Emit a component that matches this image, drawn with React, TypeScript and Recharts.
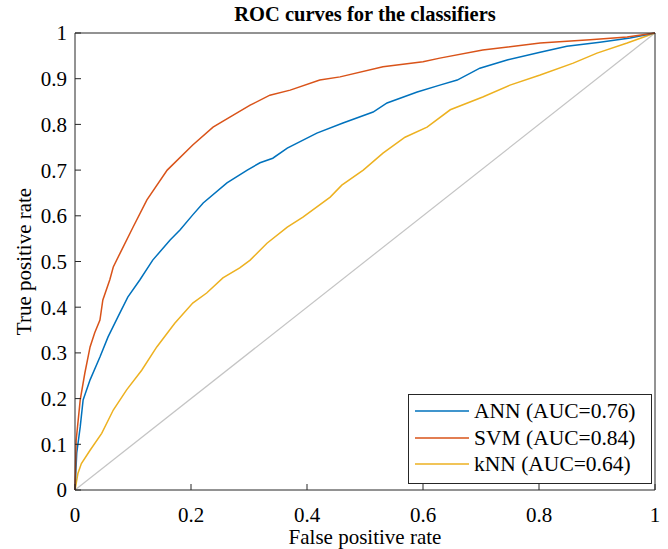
import React from "react";
import { LineChart, Line, XAxis, YAxis, Label } from "recharts";

// data (false positive rate, true positive rate)
const annFpr = [0, 0.003, 0.009, 0.014, 0.026, 0.043, 0.057, 0.074, 0.091, 0.112, 0.134, 0.164, 0.181, 0.203, 0.221, 0.262, 0.297, 0.319, 0.341, 0.366, 0.417, 0.462, 0.514, 0.538, 0.59, 0.629, 0.659, 0.698, 0.745, 0.802, 0.848, 0.905, 0.957, 1];
const annTpr = [0, 0.081, 0.138, 0.197, 0.241, 0.291, 0.335, 0.379, 0.422, 0.46, 0.503, 0.547, 0.569, 0.602, 0.628, 0.672, 0.7, 0.716, 0.726, 0.748, 0.781, 0.803, 0.827, 0.847, 0.871, 0.886, 0.897, 0.923, 0.941, 0.958, 0.971, 0.98, 0.989, 1];

const svmFpr = [0, 0.002, 0.009, 0.017, 0.026, 0.034, 0.043, 0.048, 0.06, 0.066, 0.078, 0.1, 0.124, 0.159, 0.203, 0.238, 0.267, 0.302, 0.336, 0.371, 0.422, 0.457, 0.531, 0.6, 0.629, 0.703, 0.802, 0.888, 0.952, 1];
const svmTpr = [0, 0.109, 0.197, 0.256, 0.313, 0.344, 0.372, 0.416, 0.46, 0.488, 0.519, 0.575, 0.635, 0.7, 0.755, 0.794, 0.816, 0.842, 0.864, 0.875, 0.897, 0.904, 0.926, 0.937, 0.945, 0.963, 0.978, 0.985, 0.991, 1];

const knnFpr = [0, 0.005, 0.011, 0.026, 0.046, 0.066, 0.089, 0.115, 0.141, 0.172, 0.203, 0.227, 0.255, 0.284, 0.302, 0.331, 0.366, 0.393, 0.44, 0.46, 0.497, 0.531, 0.569, 0.607, 0.647, 0.703, 0.75, 0.802, 0.859, 0.9, 0.952, 1];
const knnTpr = [0, 0.036, 0.058, 0.087, 0.124, 0.175, 0.219, 0.262, 0.313, 0.365, 0.409, 0.431, 0.464, 0.486, 0.503, 0.54, 0.575, 0.597, 0.641, 0.667, 0.7, 0.737, 0.772, 0.794, 0.832, 0.86, 0.886, 0.908, 0.934, 0.956, 0.978, 1];

const chanceFpr = [0, 1];
const chanceTpr = [0, 1];

const xTicks = [0, 0.2, 0.4, 0.6, 0.8, 1];
const yTicks = [0, 0.1, 0.2, 0.3, 0.4, 0.5, 0.6, 0.7, 0.8, 0.9, 1];

const seriesNames = ["ANN (AUC=0.76)", "SVM (AUC=0.84)", "kNN (AUC=0.64)"];
const seriesColors = ["#0072BD", "#D95319", "#EDB120"];

const toPoints = (xs: number[], ys: number[]) => xs.map((x, i) => ({ x, y: ys[i] }));

const annData = toPoints(annFpr, annTpr);
const svmData = toPoints(svmFpr, svmTpr);
const knnData = toPoints(knnFpr, knnTpr);
const chanceData = toPoints(chanceFpr, chanceTpr);

const FONT = '"Liberation Serif", "Times New Roman", serif';
const AXIS = "#262626";

const LegendBox = () => (
  <div
    style={{
      position: "absolute",
      left: 408,
      top: 394,
      border: `1px solid ${AXIS}`,
      background: "#fff",
      padding: "3px 16px 5px 6px",
      fontFamily: FONT,
      fontSize: 21.5,
      color: "#000",
      lineHeight: "26.5px",
    }}
  >
    {seriesNames.map((name, i) => (
      <div key={name} style={{ display: "flex", alignItems: "center" }}>
        <svg width={54} height={10} style={{ marginRight: 5 }}>
          <line x1={0} y1={5} x2={54} y2={5} stroke={seriesColors[i]} strokeWidth={1.5} />
        </svg>
        <span>{name}</span>
      </div>
    ))}
  </div>
);

export default function App() {
  return (
    <div style={{ position: "absolute", left: 0, top: 0, width: 668, height: 549, background: "#fff" }}>
      <LineChart
        width={668}
        height={549}
        margin={{ top: 32, right: 12, bottom: 29, left: 30 }}
        style={{ fontFamily: FONT }}
      >
        <XAxis
          xAxisId="bottom"
          type="number"
          dataKey="x"
          domain={[0, 1]}
          ticks={xTicks}
          height={30}
          stroke={AXIS}
          tickSize={-6}
          tickMargin={23}
          tick={{ fill: "#000", fontSize: 21, fontFamily: FONT }}
        >
          <Label
            value="False positive rate"
            position="bottom"
            offset={9}
            style={{ fill: "#000", fontSize: 21, fontFamily: FONT }}
          />
        </XAxis>
        <XAxis
          xAxisId="top"
          orientation="top"
          type="number"
          dataKey="x"
          domain={[0, 1]}
          ticks={xTicks}
          height={1}
          stroke={AXIS}
          tickSize={-6}
          tick={false}
        >
          <Label
            value="ROC curves for the classifiers"
            position="top"
            offset={11}
            style={{ fill: "#000", fontSize: 20.5, fontWeight: "bold", fontFamily: FONT }}
          />
        </XAxis>
        <YAxis
          yAxisId="left"
          type="number"
          dataKey="y"
          domain={[0, 1]}
          ticks={yTicks}
          width={45}
          stroke={AXIS}
          tickSize={-6}
          tickMargin={14}
          tick={{ fill: "#000", fontSize: 21, fontFamily: FONT }}
        >
          <Label
            content={({ viewBox }: any) => (
              <text
                transform={`translate(${viewBox.x + 1}, ${viewBox.y + viewBox.height / 2}) rotate(-90)`}
                textAnchor="middle"
                fill="#000"
                fontSize={21}
                fontFamily={FONT}
              >
                True positive rate
              </text>
            )}
          />
        </YAxis>
        <YAxis
          yAxisId="right"
          orientation="right"
          type="number"
          dataKey="y"
          domain={[0, 1]}
          ticks={yTicks}
          width={1}
          stroke={AXIS}
          tickSize={-6}
          tick={false}
        />
        <Line
          xAxisId="top"
          yAxisId="right"
          data={chanceData}
          dataKey="y"
          stroke="#c4c4c4"
          strokeWidth={1.2}
          dot={false}
          isAnimationActive={false}
        />
        <Line
          xAxisId="bottom"
          yAxisId="left"
          data={knnData}
          dataKey="y"
          name={seriesNames[2]}
          stroke={seriesColors[2]}
          strokeWidth={1.5}
          dot={false}
          isAnimationActive={false}
        />
        <Line
          xAxisId="bottom"
          yAxisId="left"
          data={annData}
          dataKey="y"
          name={seriesNames[0]}
          stroke={seriesColors[0]}
          strokeWidth={1.5}
          dot={false}
          isAnimationActive={false}
        />
        <Line
          xAxisId="bottom"
          yAxisId="left"
          data={svmData}
          dataKey="y"
          name={seriesNames[1]}
          stroke={seriesColors[1]}
          strokeWidth={1.5}
          dot={false}
          isAnimationActive={false}
        />
      </LineChart>
      <LegendBox />
    </div>
  );
}
